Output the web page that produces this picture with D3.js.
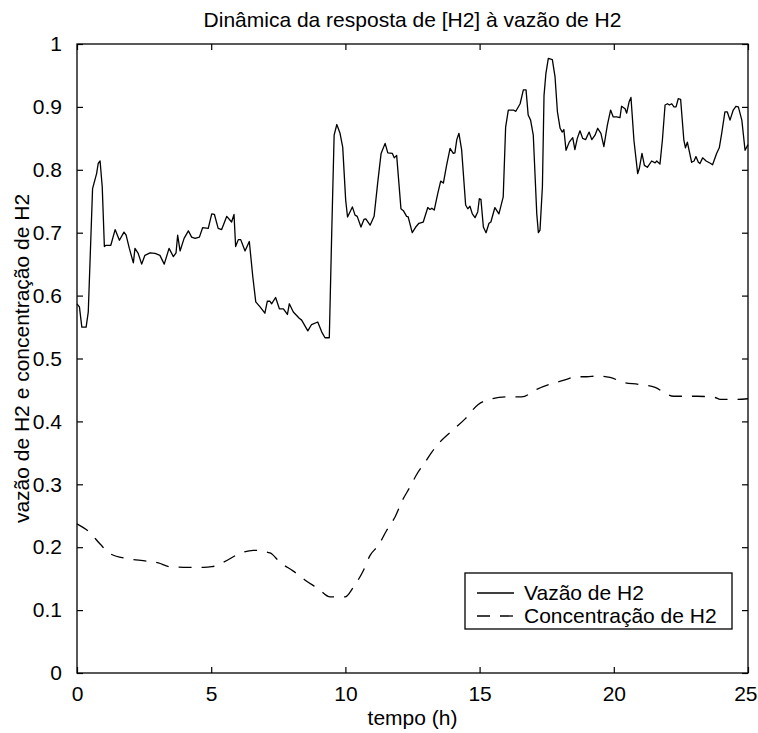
<!DOCTYPE html>
<html><head><meta charset="utf-8">
<script src="https://cdn.jsdelivr.net/npm/d3@7/dist/d3.min.js"></script>
<style>body{margin:0;background:#fff}svg{display:block}text{font-family:"Liberation Sans",Arial,sans-serif}</style>
</head><body><svg id="c" width="758" height="733"></svg>
<script>
const flowT = [0,0.09,0.18,0.34,0.42,0.58,0.73,0.79,0.86,0.94,1.02,1.08,1.26,1.42,1.58,1.75,1.83,1.95,2.10,2.16,2.28,2.41,2.53,2.72,2.91,3.09,3.25,3.43,3.59,3.69,3.75,3.84,3.99,4.15,4.27,4.40,4.56,4.68,4.89,5.02,5.12,5.26,5.39,5.58,5.76,5.85,5.91,6.01,6.10,6.26,6.42,6.55,6.66,6.82,7.00,7.09,7.19,7.25,7.40,7.54,7.69,7.84,7.91,8.06,8.28,8.37,8.60,8.74,8.97,9.12,9.24,9.40,9.49,9.58,9.68,9.80,9.90,10.01,10.08,10.26,10.36,10.44,10.58,10.69,10.76,10.92,11.07,11.20,11.33,11.48,11.58,11.75,11.82,11.91,12.07,12.16,12.28,12.34,12.49,12.62,12.74,12.90,13.07,13.15,13.22,13.31,13.44,13.55,13.65,13.77,13.90,14.02,14.08,14.15,14.23,14.33,14.48,14.56,14.64,14.73,14.83,14.93,14.99,15.05,15.14,15.24,15.35,15.42,15.57,15.72,15.88,15.97,16.07,16.26,16.35,16.51,16.63,16.73,16.81,16.90,17.00,17.13,17.19,17.25,17.34,17.40,17.47,17.56,17.71,17.81,17.90,18.00,18.08,18.14,18.22,18.34,18.47,18.55,18.64,18.74,18.84,18.95,19.08,19.18,19.30,19.40,19.52,19.63,19.76,19.88,19.98,20.11,20.23,20.29,20.42,20.48,20.57,20.64,20.75,20.89,20.95,21.05,21.14,21.25,21.41,21.54,21.60,21.72,21.81,21.91,22.00,22.07,22.16,22.24,22.32,22.40,22.49,22.61,22.67,22.74,22.90,22.99,23.06,23.15,23.21,23.31,23.44,23.61,23.68,23.83,23.93,24.02,24.14,24.23,24.33,24.45,24.55,24.64,24.77,24.89,25];
const flowV = [0.587,0.582,0.550,0.550,0.574,0.770,0.794,0.810,0.814,0.773,0.678,0.680,0.680,0.705,0.688,0.701,0.696,0.675,0.652,0.675,0.667,0.650,0.664,0.668,0.667,0.664,0.650,0.675,0.662,0.668,0.696,0.671,0.691,0.703,0.693,0.691,0.693,0.708,0.707,0.730,0.729,0.707,0.705,0.726,0.717,0.729,0.678,0.689,0.689,0.671,0.686,0.630,0.590,0.582,0.572,0.591,0.591,0.587,0.597,0.579,0.579,0.570,0.587,0.574,0.564,0.561,0.544,0.554,0.558,0.542,0.533,0.533,0.699,0.855,0.872,0.858,0.836,0.752,0.725,0.741,0.728,0.726,0.709,0.721,0.722,0.712,0.726,0.778,0.826,0.842,0.827,0.826,0.819,0.823,0.738,0.735,0.726,0.725,0.700,0.709,0.715,0.717,0.740,0.737,0.739,0.736,0.762,0.782,0.779,0.807,0.834,0.826,0.827,0.848,0.858,0.832,0.744,0.738,0.742,0.730,0.724,0.733,0.754,0.753,0.709,0.700,0.715,0.717,0.740,0.730,0.757,0.868,0.895,0.895,0.893,0.905,0.927,0.927,0.887,0.879,0.855,0.730,0.700,0.704,0.773,0.918,0.953,0.977,0.975,0.948,0.892,0.866,0.860,0.864,0.831,0.844,0.851,0.832,0.850,0.862,0.850,0.848,0.860,0.848,0.855,0.866,0.858,0.837,0.871,0.895,0.884,0.884,0.883,0.901,0.897,0.890,0.908,0.915,0.847,0.794,0.802,0.826,0.807,0.804,0.814,0.811,0.814,0.809,0.847,0.903,0.905,0.903,0.905,0.900,0.900,0.913,0.912,0.847,0.835,0.844,0.812,0.814,0.821,0.812,0.810,0.819,0.814,0.810,0.808,0.826,0.835,0.858,0.892,0.892,0.879,0.895,0.901,0.900,0.879,0.831,0.840];
const concT = [0,0.46,0.86,1.26,1.85,2.38,3.03,3.46,4.15,4.71,5.02,5.45,6.07,6.57,7.19,7.56,8.06,8.49,8.99,9.43,9.99,10.29,10.67,10.92,11.23,11.54,11.85,12.13,12.41,12.66,12.97,13.22,13.52,14.08,14.46,14.95,15.39,16.01,16.57,17.13,17.62,18.18,18.62,18.99,19.36,19.86,20.35,20.91,21.54,21.91,22.22,23.09,23.77,23.96,24.58,25];
const concV = [0.237,0.224,0.205,0.189,0.182,0.179,0.175,0.169,0.168,0.168,0.169,0.176,0.190,0.195,0.191,0.176,0.162,0.148,0.134,0.121,0.121,0.136,0.163,0.187,0.203,0.227,0.248,0.275,0.296,0.316,0.335,0.351,0.367,0.389,0.404,0.427,0.435,0.439,0.439,0.451,0.459,0.466,0.471,0.471,0.472,0.470,0.462,0.459,0.454,0.445,0.440,0.440,0.438,0.435,0.435,0.436];
const xTicks = [0,5,10,15,20,25];
const yTicks = [0,0.1,0.2,0.3,0.4,0.5,0.6,0.7,0.8,0.9,1];
const seriesNames = ["Vazão de H2","Concentração de H2"];
const titleText = "Dinâmica da resposta de [H2] à vazão de H2";
const xLabel = "tempo (h)";
const yLabel = "vazão de H2 e concentração de H2";

const L=77,R=748,T=44,B=673, FS=21;
const svg = d3.select("#c");
const x = d3.scaleLinear().domain([0,25]).range([L,R]);
const y = d3.scaleLinear().domain([0,1]).range([B,T]);
const fmt = d => d===0?"0":d===1?"1":d3.format("")(d);

const gx = svg.append("g").attr("transform",`translate(0,${B})`)
  .call(d3.axisBottom(x).tickValues(xTicks).tickSizeInner(-6).tickSizeOuter(0).tickPadding(13).tickFormat(fmt));
const gxt = svg.append("g").attr("transform",`translate(0,${T})`)
  .call(d3.axisTop(x).tickValues(xTicks).tickSizeInner(-6).tickSizeOuter(0).tickFormat(""));
const gy = svg.append("g").attr("transform",`translate(${L},0)`)
  .call(d3.axisLeft(y).tickValues(yTicks).tickSizeInner(-6).tickSizeOuter(0).tickPadding(15).tickFormat(fmt));
const gyr = svg.append("g").attr("transform",`translate(${R},0)`)
  .call(d3.axisRight(y).tickValues(yTicks).tickSizeInner(-6).tickSizeOuter(0).tickFormat(""));
[gx,gxt,gy,gyr].forEach(g=>{
  g.select(".domain").remove();
  g.selectAll("line").attr("stroke","#000").attr("stroke-width",1.2);
  g.selectAll("text").attr("font-size",FS).attr("fill","#000").attr("font-family","Liberation Sans, Arial, sans-serif");
});
// keep the last x label inside the picture
gx.selectAll(".tick text").filter(d=>d===25).attr("text-anchor","end").attr("x",9);

svg.append("rect").attr("x",L).attr("y",T).attr("width",R-L).attr("height",B-T)
  .attr("fill","none").attr("stroke","#000").attr("stroke-width",1.3);

const line = d3.line().x(d=>x(d[0])).y(d=>y(d[1]));
const flow = flowT.map((t,i)=>[t,flowV[i]]);
const conc = concT.map((t,i)=>[t,concV[i]]);
const conLine = d3.line().curve(d3.curveMonotoneX).x(d=>x(d[0])).y(d=>y(d[1]));
svg.append("path").attr("d",line(flow)).attr("fill","none").attr("stroke","#000").attr("stroke-width",1.3).attr("stroke-linejoin","round");
svg.append("path").attr("d",conLine(conc)).attr("fill","none").attr("stroke","#000").attr("stroke-width",1.3).attr("stroke-dasharray","13,10");

svg.append("text").attr("x",(L+R)/2).attr("y",27).attr("text-anchor","middle").attr("font-size",FS).text(titleText);
svg.append("text").attr("x",(L+R)/2).attr("y",725).attr("text-anchor","middle").attr("font-size",FS).text(xLabel);
svg.append("text").attr("transform",`translate(29,${(T+B)/2}) rotate(-90)`).attr("text-anchor","middle").attr("font-size",FS).text(yLabel);

const lg = svg.append("g");
lg.append("rect").attr("x",465).attr("y",573).attr("width",267).attr("height",56).attr("fill","#fff").attr("stroke","#000").attr("stroke-width",1.3);
const dashes = [null,"13,10"];
seriesNames.forEach((n,i)=>{
  const yy = 593 + i*23;
  lg.append("line").attr("x1",477).attr("x2",514).attr("y1",yy).attr("y2",yy).attr("stroke","#000").attr("stroke-width",1.3).attr("stroke-dasharray",dashes[i]);
  lg.append("text").attr("x",524).attr("y",yy+7).attr("font-size",FS).text(n);
});
</script></body></html>
